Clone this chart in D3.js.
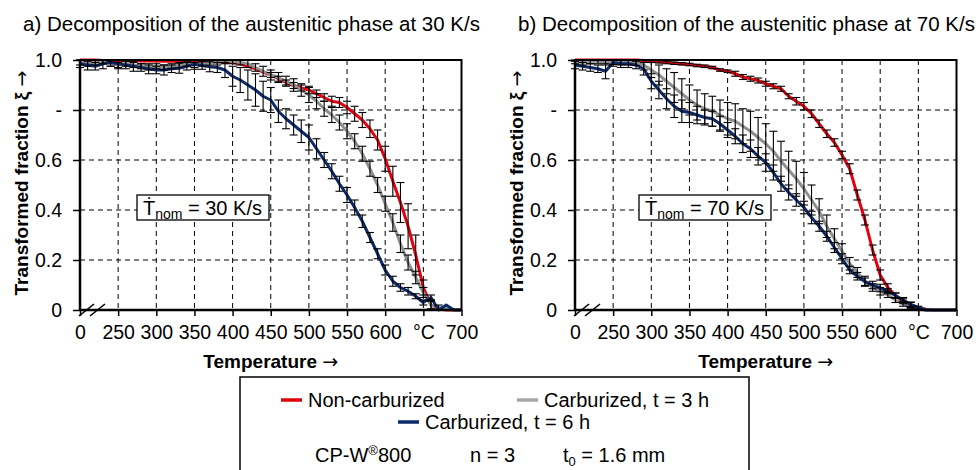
<!DOCTYPE html>
<html lang="en">
<head>
<meta charset="UTF-8">
<title>Decomposition of the austenitic phase</title>
<script src="https://d3js.org/d3.v7.min.js"></script>
<style>
    body { margin: 0; background: white; }
    svg { font-family: "Liberation Sans", Arial, sans-serif; }
    .grid line { stroke: #000; stroke-width: 1; stroke-dasharray: 5,4; }
    .axis path { display: none; }
    .axis line { stroke: #000; stroke-width: 1.5; }
    .axis text { font-size: 19.5px; fill: #000; }
    .arrow { font-family: "DejaVu Sans", sans-serif; font-weight: normal; }
</style>
</head>
<body>
<script>
// temperature positions (200 stands for the broken-axis "0")
var temps = [200, 210, 220, 230, 240, 250, 260, 270, 280, 290,
             300, 310, 320, 330, 340, 350, 360, 370, 380, 390,
             400, 410, 420, 430, 440, 450, 460, 470, 480, 490,
             500, 510, 520, 530, 540, 550, 560, 570, 580, 590,
             600, 610, 620, 630, 640, 650, 660, 670, 680, 690, 700];

var xTicks = [200, 250, 300, 350, 400, 450, 500, 550, 600, 650, 700];
var xTickLabels = ["0", "250", "300", "350", "400", "450", "500", "550", "600", "°C", "700"];
var yTicks = [0, 0.2, 0.4, 0.6, 0.8, 1.0];
var yTickLabels = ["0", "0.2", "0.4", "0.6", "-", "1.0"];

var seriesNames = ["Non-carburized", "Carburized, t = 3 h", "Carburized, t = 6 h"];
var seriesColors = ["#e3000f", "#8f8f8f", "#0c2a6a"];

// a) 30 K/s
var a_nonCarb = [1.0, 1.0, 1.0, 0.998, 0.998, 0.997, 0.997, 0.997, 0.996, 0.996,
                 0.996, 0.995, 0.995, 0.995, 0.995, 0.995, 0.995, 0.994, 0.993, 0.99,
                 0.99, 0.985, 0.975, 0.965, 0.952, 0.94, 0.925, 0.91, 0.898, 0.888,
                 0.88, 0.865, 0.85, 0.835, 0.83, 0.81, 0.785, 0.76, 0.725, 0.68,
                 0.605, 0.515, 0.43, 0.335, 0.22, 0.09, 0.02, 0.005, 0.0, 0.0, 0.0];
var a_carb3 = [0.99, 0.985, 0.99, 0.995, 0.985, 0.98, 0.985, 0.98, 0.975, 0.97,
               0.975, 0.97, 0.975, 0.98, 0.985, 0.98, 0.985, 0.99, 0.99, 0.995,
               0.995, 0.99, 0.985, 0.97, 0.955, 0.94, 0.93, 0.915, 0.9, 0.88,
               0.86, 0.835, 0.805, 0.78, 0.75, 0.715, 0.675, 0.625, 0.565, 0.5,
               0.425, 0.35, 0.265, 0.19, 0.13, 0.07, 0.02, 0.01, 0.005, 0.0, 0.0];
var a_carb6 = [0.985, 0.98, 0.975, 0.985, 0.99, 0.985, 0.98, 0.975, 0.97, 0.965,
               0.96, 0.96, 0.965, 0.967, 0.975, 0.983, 0.978, 0.973, 0.97, 0.96,
               0.935, 0.92, 0.9, 0.88, 0.855, 0.84, 0.795, 0.765, 0.74, 0.715,
               0.69, 0.645, 0.6, 0.555, 0.505, 0.46, 0.41, 0.355, 0.29, 0.225,
               0.16, 0.115, 0.09, 0.075, 0.055, 0.03, 0.05, 0.0, 0.02, 0.0, 0.0];
var a_nonCarbErr = [0, 0, 0, 0, 0, 0, 0, 0, 0, 0,
                    0, 0, 0, 0, 0, 0, 0, 0, 0, 0,
                    0, 0, 0, 0, 0, 0.01, 0.01, 0.01, 0.012, 0.012,
                    0.015, 0.015, 0.015, 0.02, 0.02, 0.025, 0.03, 0.03, 0.035, 0.04,
                    0.05, 0.06, 0.08, 0.09, 0.08, 0.03, 0.02, 0, 0, 0, 0];
var a_carb3Err = [0.01, 0.01, 0.01, 0.01, 0.01, 0.01, 0.01, 0.01, 0.01, 0.01,
                  0.01, 0.01, 0.01, 0.01, 0.01, 0.01, 0.01, 0.01, 0.01, 0.01,
                  0.01, 0.01, 0.015, 0.015, 0.02, 0.02, 0.02, 0.02, 0.025, 0.025,
                  0.03, 0.03, 0.03, 0.03, 0.03, 0.03, 0.03, 0.03, 0.03, 0.03,
                  0.03, 0.035, 0.035, 0.03, 0.025, 0.02, 0.015, 0.01, 0, 0, 0];
var a_carb6Err = [0.015, 0.02, 0.015, 0.02, 0.015, 0.02, 0.015, 0.02, 0.015, 0.02,
                  0.015, 0.02, 0.015, 0.02, 0.015, 0.02, 0.015, 0.02, 0.02, 0.03,
                  0.04, 0.05, 0.06, 0.065, 0.06, 0.05, 0.045, 0.04, 0.04, 0.045,
                  0.05, 0.04, 0.03, 0.03, 0.03, 0.03, 0.03, 0.025, 0.02, 0.02,
                  0.02, 0.02, 0.015, 0.015, 0.01, 0.01, 0.01, 0, 0, 0, 0];

// b) 70 K/s
var b_nonCarb = [1.0, 1.0, 1.0, 1.0, 1.0, 1.0, 1.0, 1.0, 1.0, 0.998,
                 0.995, 0.993, 0.99, 0.987, 0.985, 0.982, 0.978, 0.975, 0.97, 0.96,
                 0.955, 0.945, 0.932, 0.925, 0.918, 0.905, 0.895, 0.885, 0.855, 0.835,
                 0.815, 0.785, 0.745, 0.705, 0.67, 0.62, 0.565, 0.46, 0.36, 0.24,
                 0.14, 0.09, 0.058, 0.035, 0.02, 0.008, 0.003, 0.0, 0.0, 0.0, 0.0];
var b_carb3 = [0.995, 0.99, 0.995, 0.995, 0.99, 0.992, 0.99, 0.99, 0.988, 0.98,
               0.96, 0.94, 0.915, 0.89, 0.865, 0.84, 0.82, 0.805, 0.795, 0.78,
               0.765, 0.755, 0.735, 0.715, 0.69, 0.665, 0.635, 0.595, 0.56, 0.525,
               0.485, 0.44, 0.395, 0.335, 0.285, 0.235, 0.185, 0.15, 0.115, 0.09,
               0.075, 0.06, 0.04, 0.025, 0.01, 0.003, 0.0, 0.0, 0.0, 0.0, 0.0];
var b_carb6 = [0.98, 0.975, 0.97, 0.965, 0.955, 0.99, 0.985, 0.985, 0.98, 0.965,
               0.915, 0.88, 0.845, 0.815, 0.795, 0.79, 0.78, 0.77, 0.765, 0.745,
               0.72, 0.695, 0.665, 0.645, 0.615, 0.59, 0.55, 0.505, 0.47, 0.44,
               0.41, 0.37, 0.335, 0.295, 0.25, 0.205, 0.16, 0.135, 0.113, 0.1,
               0.088, 0.075, 0.058, 0.04, 0.022, 0.01, 0.0, 0.0, 0.0, 0.0, 0.0];
var b_nonCarbErr = [0, 0, 0, 0, 0, 0, 0, 0, 0, 0,
                    0.005, 0.005, 0.005, 0.005, 0.005, 0.005, 0.005, 0.005, 0.005, 0.005,
                    0.005, 0.01, 0.01, 0.01, 0.01, 0.01, 0.01, 0.01, 0.01, 0.015,
                    0.015, 0.015, 0.015, 0.015, 0.015, 0.015, 0.02, 0.02, 0.02, 0.02,
                    0.02, 0.015, 0.01, 0.01, 0.01, 0, 0, 0, 0, 0, 0];
var b_carb3Err = [0.01, 0.01, 0.01, 0.01, 0.01, 0.01, 0.01, 0.01, 0.01, 0.02,
                  0.03, 0.04, 0.05, 0.06, 0.06, 0.06, 0.06, 0.06, 0.06, 0.06,
                  0.065, 0.07, 0.07, 0.08, 0.08, 0.08, 0.08, 0.08, 0.075, 0.07,
                  0.065, 0.06, 0.05, 0.045, 0.04, 0.03, 0.025, 0.02, 0.02, 0.015,
                  0.015, 0.01, 0.01, 0.01, 0.005, 0, 0, 0, 0, 0, 0];
var b_carb6Err = [0.015, 0.015, 0.015, 0.015, 0.03, 0.015, 0.015, 0.015, 0.015, 0.025,
                  0.03, 0.035, 0.04, 0.045, 0.045, 0.04, 0.035, 0.03, 0.03, 0.03,
                  0.03, 0.03, 0.035, 0.035, 0.035, 0.035, 0.03, 0.03, 0.03, 0.025,
                  0.025, 0.025, 0.02, 0.02, 0.02, 0.02, 0.015, 0.015, 0.015, 0.015,
                  0.015, 0.01, 0.01, 0.01, 0.01, 0.005, 0, 0, 0, 0, 0];

var svg = d3.select("body").append("svg")
    .attr("width", 978)
    .attr("height", 470);

function drawPanel(left, title, rate, series, errs) {
    var top = 60, w = 381.5, h = 250;
    var x = d3.scaleLinear().domain([200, 700]).range([0, w]);
    var y = d3.scaleLinear().domain([0, 1]).range([h, 0]);

    var g = svg.append("g").attr("transform", "translate(" + left + "," + top + ")");

    // title
    svg.append("text")
        .attr("x", left - 57).attr("y", 31)
        .attr("font-size", "20.5px")
        .text(title);

    // dashed grid
    var grid = g.append("g").attr("class", "grid");
    grid.selectAll(".vg").data(xTicks.slice(1, -1)).enter().append("line")
        .attr("x1", d => x(d)).attr("x2", d => x(d))
        .attr("y1", 0).attr("y2", h);
    grid.selectAll(".hg").data(yTicks.slice(1, -1)).enter().append("line")
        .attr("x1", 0).attr("x2", w)
        .attr("y1", d => y(d)).attr("y2", d => y(d));

    // axes
    g.append("g").attr("class", "axis")
        .attr("transform", "translate(0," + h + ")")
        .call(d3.axisBottom(x).tickValues(xTicks).tickSize(6).tickPadding(9)
            .tickFormat((d, i) => xTickLabels[i]));
    g.append("g").attr("class", "axis")
        .call(d3.axisLeft(y).tickValues(yTicks).tickSize(7).tickPadding(11)
            .tickFormat((d, i) => yTickLabels[i]));

    // lines
    var line = d3.line()
        .x((d, i) => x(temps[i]))
        .y(d => y(d));
    series.forEach(function (s, k) {
        g.append("path")
            .datum(s)
            .attr("d", line)
            .attr("fill", "none")
            .attr("stroke", seriesColors[k])
            .attr("stroke-width", 3)
            .attr("stroke-linejoin", "round");
    });

    // error bars
    series.forEach(function (s, k) {
        var pts = s.map((v, i) => ({ t: temps[i], v: v, e: errs[k][i] })).filter(p => p.e > 0);
        var eb = g.append("g").attr("stroke", "#000").attr("stroke-width", 1.1);
        eb.selectAll(".bar").data(pts).enter().append("line")
            .attr("x1", d => x(d.t)).attr("x2", d => x(d.t))
            .attr("y1", d => y(Math.min(1, d.v + d.e))).attr("y2", d => y(Math.max(0, d.v - d.e)));
        eb.selectAll(".capT").data(pts).enter().append("line")
            .attr("x1", d => x(d.t) - 4).attr("x2", d => x(d.t) + 4)
            .attr("y1", d => y(Math.min(1, d.v + d.e))).attr("y2", d => y(Math.min(1, d.v + d.e)));
        eb.selectAll(".capB").data(pts).enter().append("line")
            .attr("x1", d => x(d.t) - 4).attr("x2", d => x(d.t) + 4)
            .attr("y1", d => y(Math.max(0, d.v - d.e))).attr("y2", d => y(Math.max(0, d.v - d.e)));
    });

    // frame
    g.append("rect")
        .attr("x", 0).attr("y", 0).attr("width", w).attr("height", h)
        .attr("fill", "none").attr("stroke", "#000").attr("stroke-width", 2);
    g.append("line").attr("x1", 0).attr("x2", 0).attr("y1", 0).attr("y2", h)
        .attr("stroke", "#000").attr("stroke-width", 2.5);
    g.append("line").attr("x1", 0).attr("x2", w).attr("y1", h).attr("y2", h)
        .attr("stroke", "#000").attr("stroke-width", 2.5);

    // axis break marks
    [0, 11].forEach(function (dx) {
        g.append("line")
            .attr("x1", -1 + dx).attr("y1", h + 6)
            .attr("x2", 14 + dx).attr("y2", h - 6)
            .attr("stroke", "#000").attr("stroke-width", 1.6);
    });

    // rate box
    var bx = left === 80 ? 57 : 64;
    g.append("rect")
        .attr("x", bx).attr("y", 135).attr("width", 132).attr("height", 25)
        .attr("fill", "white").attr("stroke", "#000").attr("stroke-width", 1.3);
    var rt = g.append("text").attr("x", bx + 6).attr("y", 155).attr("font-size", "20px");
    rt.append("tspan").text("Ṫ");
    rt.append("tspan").attr("font-size", "14px").attr("dy", 4).text("nom");
    rt.append("tspan").attr("dy", -4).text(" = " + rate + " K/s");

    // axis titles
    var yl = svg.append("text")
        .attr("transform", "translate(" + (left - 52) + ",183) rotate(-90)")
        .attr("text-anchor", "middle")
        .attr("font-size", "19px").attr("font-weight", "bold");
    yl.append("tspan").text("Transformed fraction ξ ");
    yl.append("tspan").attr("class", "arrow").text("→");
    var xl = svg.append("text")
        .attr("x", left + w / 2).attr("y", 368)
        .attr("text-anchor", "middle")
        .attr("font-size", "19px").attr("font-weight", "bold");
    xl.append("tspan").text("Temperature ");
    xl.append("tspan").attr("class", "arrow").text("→");
}

drawPanel(80, "a) Decomposition of the austenitic phase at 30 K/s", 30,
    [a_nonCarb, a_carb3, a_carb6], [a_nonCarbErr, a_carb3Err, a_carb6Err]);
drawPanel(575, "b) Decomposition of the austenitic phase at 70 K/s", 70,
    [b_nonCarb, b_carb3, b_carb6], [b_nonCarbErr, b_carb3Err, b_carb6Err]);

// legend
var lg = svg.append("g");
lg.append("rect")
    .attr("x", 240).attr("y", 377).attr("width", 509).attr("height", 110)
    .attr("fill", "white").attr("stroke", "#000").attr("stroke-width", 1.5);
var legendItems = [
    { x: 281, y: 400, k: 0 },
    { x: 517, y: 400, k: 1 },
    { x: 398, y: 422, k: 2 }
];
legendItems.forEach(function (it) {
    lg.append("line")
        .attr("x1", it.x).attr("x2", it.x + 21)
        .attr("y1", it.y).attr("y2", it.y)
        .attr("stroke", it.k === 1 ? "#a6a6a6" : seriesColors[it.k])
        .attr("stroke-width", 3.5);
    lg.append("text")
        .attr("x", it.x + 27).attr("y", it.y + 6.5)
        .attr("font-size", "20px")
        .text(seriesNames[it.k]);
});
var t1 = lg.append("text").attr("x", 315).attr("y", 462).attr("font-size", "20px");
t1.append("tspan").text("CP-W");
t1.append("tspan").attr("font-size", "13px").attr("dy", -7).text("®");
t1.append("tspan").attr("dy", 7).text("800");
lg.append("text").attr("x", 470).attr("y", 462).attr("font-size", "20px").text("n = 3");
var t3 = lg.append("text").attr("x", 563).attr("y", 462).attr("font-size", "20px");
t3.append("tspan").text("t");
t3.append("tspan").attr("font-size", "13px").attr("dy", 4).text("0");
t3.append("tspan").attr("dy", -4).text(" = 1.6 mm");
</script>
</body>
</html>
